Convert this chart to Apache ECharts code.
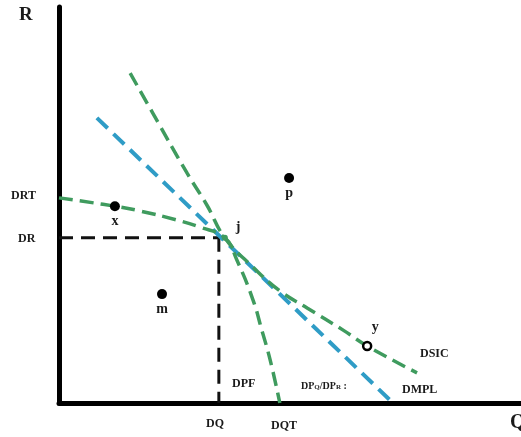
<!DOCTYPE html>
<html>
<head>
<meta charset="utf-8">
<script src="https://cdn.jsdelivr.net/npm/echarts@6/dist/echarts.min.js"></script>
<style>
html,body{margin:0;padding:0;background:#fff;}
#c{width:521px;height:437px;}
</style>
</head>
<body>
<div id="c"></div>
<script>
// Production possibility frontier (DPF), concave, from DRT to DQT
const dpf = [[0,51.8],[12.1,49.7],[17.5,48.5],[25.5,46.2],[30.5,44.4],[35.9,41.7],[38.5,36.1],[42.0,26.0],[43.9,18.4],[45.7,10.9],[47.8,0]];
// Social indifference curve (DSIC), convex
const dsic = [[15.4,83.3],[20.3,73.2],[27.7,58.1],[32.0,50.0],[35.9,41.7],[42.0,34.3],[47.8,28.3],[53.7,24.0],[61.5,18.4],[66.7,14.4],[77.5,7.6]];
// Price line (DMPL)
const dmpl = [[8.2,72.0],[72.3,0]];
// Equilibrium reference lines
const drLine = [[0,41.7],[34.8,41.7]];
const dqLine = [[34.6,41.7],[34.6,0]];
// Labelled points
const solidPts = [{name:'x',value:[12.1,49.7]},{name:'p',value:[49.8,56.8]},{name:'m',value:[22.3,27.5]}];
const hollowPts = [{name:'y',value:[66.7,14.4]}];
const jPt = [{name:'j',value:[35.9,41.7]}];

const GREEN = '#3f9b5e';
const BLUE = '#2f9cc6';
const TXT = '#1a1a1a';
const FONT = '"Liberation Serif", "DejaVu Serif", serif';

const chart = echarts.init(document.getElementById('c'), null, {renderer:'canvas'});
const axisCommon = {
  type:'value', min:0, max:100,
  axisLine:{show:true, onZero:false, lineStyle:{color:'#000', width:5, cap:'round'}},
  axisTick:{show:false}, axisLabel:{show:false}, splitLine:{show:false}
};
chart.setOption({
  animation:false,
  backgroundColor:'#fff',
  grid:{left:59, right:0, top:7, bottom:34},
  xAxis: axisCommon,
  yAxis: axisCommon,
  series:[
    {type:'line', data:drLine, symbol:'none', lineStyle:{color:'#111', width:3, type:[14,8]}, z:2},
    {type:'line', data:dqLine, symbol:'none', lineStyle:{color:'#111', width:3, type:[14,8]}, z:2},
    {type:'line', data:dmpl, symbol:'none', lineStyle:{color:BLUE, width:4, type:[15,8]}, z:3},
    {type:'line', data:dpf, symbol:'none', smooth:0.45, lineStyle:{color:GREEN, width:3.5, type:[14,7]}, z:4},
    {type:'line', data:dsic, symbol:'none', smooth:0.45, lineStyle:{color:GREEN, width:3.5, type:[14,7]}, z:4},
    {type:'scatter', data:solidPts, symbolSize:10, itemStyle:{color:'#000', opacity:1}, z:6,
     label:{show:true, position:'bottom', distance:3, formatter:'{b}', color:TXT, fontFamily:FONT, fontWeight:'bold', fontSize:14}},
    {type:'scatter', data:hollowPts, symbolSize:8, itemStyle:{color:'#fff', borderColor:'#000', borderWidth:2.5, opacity:1}, z:6,
     label:{show:true, position:'top', distance:6, offset:[8,0], formatter:'{b}', color:TXT, fontFamily:FONT, fontWeight:'bold', fontSize:14}},
    {type:'scatter', data:jPt, symbolSize:6, itemStyle:{color:GREEN, opacity:1}, z:6,
     label:{show:true, position:'right', distance:8, offset:[0,-10], formatter:'{b}', color:TXT, fontFamily:FONT, fontWeight:'bold', fontSize:14}}
  ],
  graphic:[
    {type:'text', left:19, top:6, style:{text:'R', font:'bold 19px '+FONT, fill:TXT}},
    {type:'text', left:11, top:190, style:{text:'DRT', font:'bold 12px '+FONT, fill:TXT}},
    {type:'text', left:18, top:233, style:{text:'DR', font:'bold 12px '+FONT, fill:TXT}},
    {type:'text', left:420, top:348, style:{text:'DSIC', font:'bold 12px '+FONT, fill:TXT}},
    {type:'text', left:402, top:384, style:{text:'DMPL', font:'bold 12px '+FONT, fill:TXT}},
    {type:'text', left:232, top:378, style:{text:'DPF', font:'bold 12px '+FONT, fill:TXT}},
    {type:'text', left:301, top:381, style:{
      text:'DP{s|Q}/DP{s|R} :', font:'bold 10px '+FONT, fill:TXT,
      rich:{s:{fontSize:7, fontFamily:FONT, fontWeight:'bold', fill:TXT, verticalAlign:'bottom', padding:[3,0,0,0]}}}},
    {type:'text', left:206, top:418, style:{text:'DQ', font:'bold 12px '+FONT, fill:TXT}},
    {type:'text', left:271, top:420, style:{text:'DQT', font:'bold 12px '+FONT, fill:TXT}},
    {type:'text', left:510, top:413, style:{text:'Q', font:'bold 20px '+FONT, fill:TXT}}
  ]
});
</script>
</body>
</html>
